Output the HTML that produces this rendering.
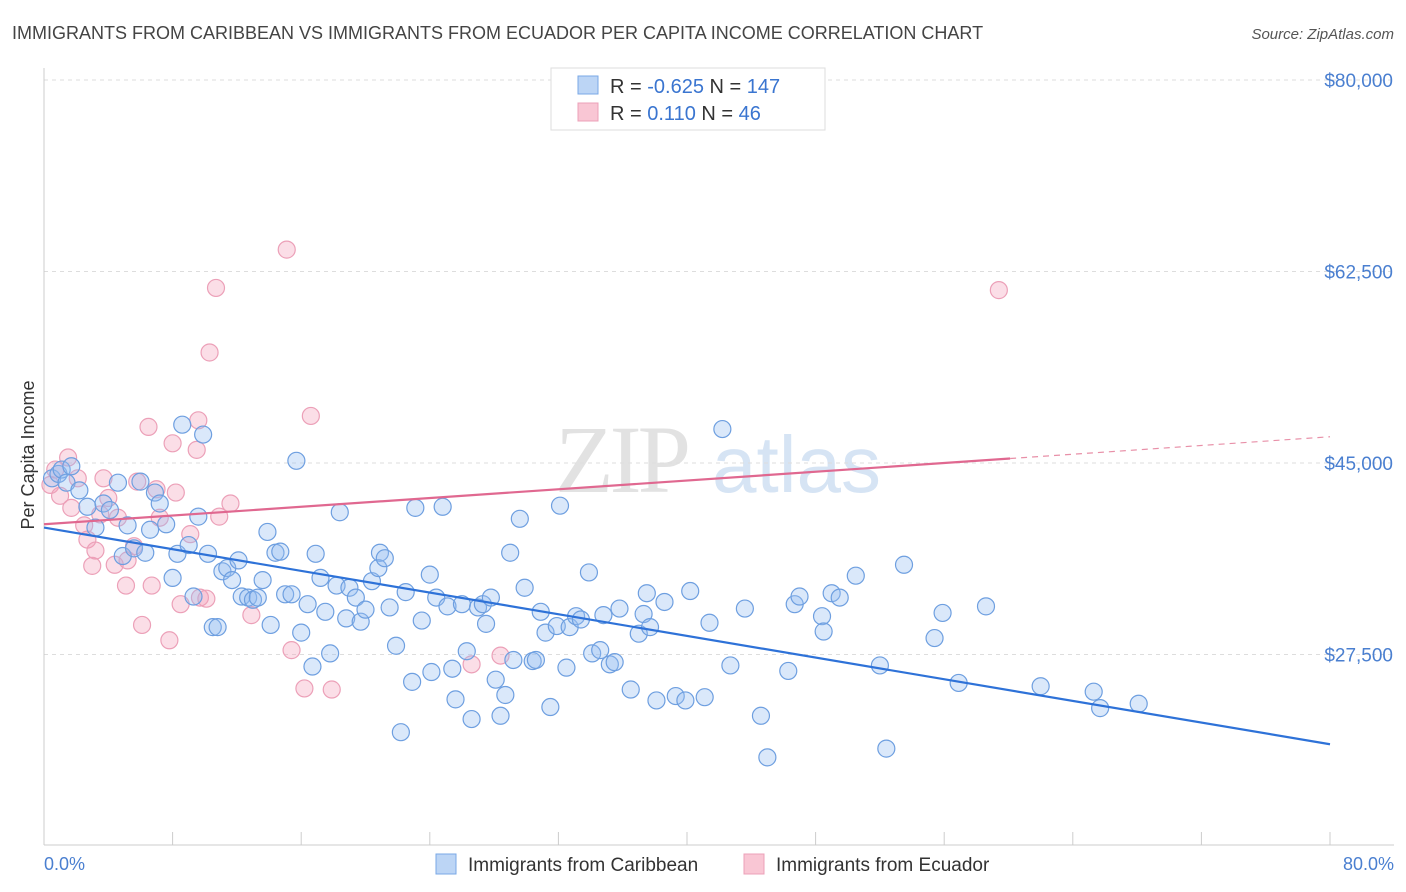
<!DOCTYPE html>
<html><head><meta charset="utf-8"><style>
body{margin:0;background:#fff;font-family:"Liberation Sans",sans-serif;}
svg{display:block}
</style></head><body>
<svg width="1406" height="892">
<text x="12" y="39" font-size="18" fill="#444">IMMIGRANTS FROM CARIBBEAN VS IMMIGRANTS FROM ECUADOR PER CAPITA INCOME CORRELATION CHART</text>
<text x="1394" y="39" font-size="15" fill="#555" text-anchor="end" font-style="italic">Source: ZipAtlas.com</text>
<g>
<text x="555" y="492" font-size="96" fill="#e2e2e2" font-family="Liberation Serif,serif" letter-spacing="-4">ZIP</text>
<text x="712" y="492" font-size="80" fill="#d6e4f4">atlas</text>
</g>
<g id="grid"></g>
<g id="axes"></g>
<g id="marks"></g>
<text transform="translate(34,455) rotate(-90)" font-size="18" fill="#333" text-anchor="middle">Per Capita Income</text>
<text x="44" y="870" font-size="18" fill="#4a7fd0">0.0%</text>
<text x="1394" y="870" font-size="18" fill="#4a7fd0" text-anchor="end">80.0%</text>
<g>
<rect x="551" y="68" width="274" height="62" fill="#fff" stroke="#ddd"/>
<rect x="578" y="76" width="20" height="18" fill="#bcd5f5" stroke="#7aa8e6"/>
<rect x="578" y="103" width="20" height="18" fill="#f9c6d4" stroke="#eca0b8"/>
<text x="610" y="93" font-size="20" fill="#333">R = <tspan fill="#3a75d0">-0.625</tspan>   N = <tspan fill="#3a75d0">147</tspan></text>
<text x="610" y="120" font-size="20" fill="#333">R =   <tspan fill="#3a75d0">0.110</tspan>   N =  <tspan fill="#3a75d0">46</tspan></text>
</g>
<g>
<rect x="436" y="854" width="20" height="20" fill="#bcd5f5" stroke="#7aa8e6"/>
<text x="468" y="871" font-size="19" fill="#333">Immigrants from Caribbean</text>
<rect x="744" y="854" width="20" height="20" fill="#f9c6d4" stroke="#eca0b8"/>
<text x="776" y="871" font-size="19" fill="#333">Immigrants from Ecuador</text>
</g>
</svg>
<script>
const yTicks=[80000,62500,45000,27500];
const yTickLabels=["$80,000","$62,500","$45,000","$27,500"];
const xTicks=[0,8,16,24,32,40,48,56,64,72,80];
const blueX=[0.5,0.9,1.1,1.4,1.7,2.2,2.7,3.2,3.7,4.1,4.6,4.9,5.2,5.6,6.0,6.3,6.6,6.9,7.2,7.6,8.0,8.3,8.6,9.0,9.3,9.6,9.9,10.2,10.5,10.8,11.1,11.4,11.7,12.1,12.3,12.7,13.0,13.3,13.6,13.9,14.1,14.4,14.7,15.0,15.4,15.7,16.0,16.4,16.7,16.9,17.2,17.5,17.8,18.2,18.4,18.8,19.0,19.4,19.7,20.0,20.4,20.8,20.9,21.2,21.5,21.9,22.2,22.5,22.9,23.1,23.5,24.0,24.1,24.4,24.8,25.1,25.4,25.6,26.0,26.3,26.6,27.0,27.3,27.5,27.8,28.1,28.4,28.7,29.0,29.2,29.6,29.9,30.4,30.6,30.9,31.2,31.5,31.9,32.1,32.5,32.7,33.1,33.4,33.9,34.1,34.6,34.8,35.2,35.5,35.8,36.5,37.0,37.3,37.5,37.7,38.1,38.6,39.3,39.9,40.2,41.1,41.4,42.2,42.7,43.6,44.6,45.0,46.3,46.7,47.0,48.4,48.5,49.0,49.5,50.5,52.0,52.4,53.5,55.4,55.9,56.9,58.6,62.0,65.3,65.7,68.1];
const blueY=[43.6,44.0,44.4,43.2,44.7,42.5,41.0,39.1,41.3,40.7,43.2,36.5,39.3,37.2,43.3,36.8,38.9,42.3,41.3,39.4,34.5,36.7,48.5,37.5,32.8,40.1,47.6,36.7,30.0,30.0,35.1,35.4,34.3,36.1,32.8,32.7,32.5,32.7,34.3,38.7,30.2,36.8,36.9,33.0,33.0,45.2,29.5,32.1,26.4,36.7,34.5,31.4,27.6,33.8,40.5,30.8,33.6,32.7,30.5,31.6,34.2,35.4,36.8,36.3,31.8,28.3,20.4,33.2,25.0,40.9,30.6,34.8,25.9,32.7,41.0,31.9,26.2,23.4,32.1,27.8,21.6,31.8,32.1,30.3,32.7,25.2,21.9,23.8,36.8,27.0,39.9,33.6,26.9,27.0,31.4,29.5,22.7,30.1,41.1,26.3,30.0,31.0,30.7,35.0,27.6,27.9,31.1,26.6,26.8,31.7,24.3,29.4,31.2,33.1,30.0,23.3,32.3,23.7,23.3,33.3,23.6,30.4,48.1,26.5,31.7,21.9,18.1,26.0,32.1,32.8,31.0,29.6,33.1,32.7,34.7,26.5,18.9,35.7,29.0,31.3,24.9,31.9,24.6,24.1,22.6,23.0];
const pinkX=[0.4,0.7,1.0,1.5,1.7,2.1,2.5,2.7,3.0,3.2,3.5,3.7,4.0,4.4,4.6,5.1,5.2,5.6,5.8,6.1,6.5,6.7,7.0,7.2,7.8,8.0,8.2,8.5,9.1,9.5,9.6,9.7,10.1,10.3,10.7,10.9,11.6,12.9,15.1,15.4,16.2,16.6,17.9,26.6,28.4,59.4];
const pinkY=[43.0,44.4,42.0,45.5,40.9,43.6,39.3,38.0,35.6,37.0,40.3,43.6,41.8,35.7,40.0,33.8,36.1,37.4,43.3,30.2,48.3,33.8,42.6,40.0,28.8,46.8,42.3,32.1,38.5,46.2,48.9,32.7,32.6,55.1,61.0,40.1,41.3,31.1,64.5,27.9,24.4,49.3,24.3,26.6,27.4,60.8];
const blueTrend=[39.1,19.3]; // value (k$) at x=0 and x=80
const pinkTrend=[39.4,47.4];
const pinkSolidEnd=60.1;

const NS="http://www.w3.org/2000/svg";
const X=v=>44+v/80*1286;
const Y=k=>463-(k-45)/17.5*191.5;
function mk(tag,attrs,parent){const e=document.createElementNS(NS,tag);for(const a in attrs)e.setAttribute(a,attrs[a]);document.getElementById(parent).appendChild(e);return e;}
yTicks.forEach((t,i)=>{
  const g=mk('line',{x1:44,x2:1394,y1:Y(t/1000),y2:Y(t/1000),stroke:'#ddd','stroke-dasharray':'4,4'},'grid');
  
  
  const tx=mk('text',{x:1393,y:Y(t/1000)+7,'font-size':19,fill:'#4a7fd0','text-anchor':'end'},'grid');
  tx.textContent=yTickLabels[i];
  
  
});
const ax=mk('line',{x1:44,x2:44,y1:68,y2:845,stroke:'#ccc'},'axes');


const bx=mk('line',{x1:44,x2:1394,y1:845,y2:845,stroke:'#ccc'},'axes');


xTicks.forEach(t=>{
  const l=mk('line',{x1:X(t),x2:X(t),y1:832,y2:845,stroke:'#ccc'},'axes');
  
  
});
pinkX.forEach((x,i)=>{
  const c=mk('circle',{cx:X(x),cy:Y(pinkY[i]),r:8.5,fill:'rgba(244,160,185,0.35)',stroke:'#eca0b8','stroke-width':1.2},'marks');
  
  
});
blueX.forEach((x,i)=>{
  const c=mk('circle',{cx:X(x),cy:Y(blueY[i]),r:8.5,fill:'rgba(150,190,240,0.35)',stroke:'#6e9fe0','stroke-width':1.2},'marks');
  
  
});
const bl=mk('line',{x1:X(0),y1:Y(blueTrend[0]),x2:X(80),y2:Y(blueTrend[1]),stroke:'#2e72d8','stroke-width':2.2},'marks');


const pAt=x=>pinkTrend[0]+(pinkTrend[1]-pinkTrend[0])*x/80;
const pl=mk('line',{x1:X(0),y1:Y(pAt(0)),x2:X(pinkSolidEnd),y2:Y(pAt(pinkSolidEnd)),stroke:'#e06890','stroke-width':2.2},'marks');


const pd=mk('line',{x1:X(pinkSolidEnd),y1:Y(pAt(pinkSolidEnd)),x2:X(80),y2:Y(pAt(80)),stroke:'#e890a8','stroke-width':1.2,'stroke-dasharray':'6,5'},'marks');


</script>
</body></html>
